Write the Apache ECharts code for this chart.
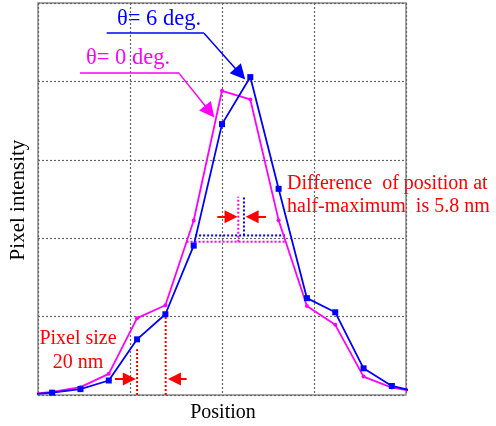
<!DOCTYPE html>
<html><head><meta charset="utf-8">
<script src="https://cdn.jsdelivr.net/npm/echarts@6/dist/echarts.min.js"></script>
<style>html,body{margin:0;padding:0;background:#fff}#c{width:496px;height:426px}</style>
</head><body><div id="c"></div>
<script>
// Data (x in nm, y in relative intensity units)
const positions = [-10, 10, 30, 50, 70, 90, 110, 130, 150, 170, 190, 210, 230, 250, 270];
const blueValues = [0.0, 0.6, 1.5, 3.7, 14.2, 20.6, 38.1, 69.1, 81.1, 52.6, 24.7, 21.1, 6.8, 2.3, 0.6];
const magentaValues = [0.1, 0.8, 2.0, 5.4, 19.6, 22.9, 44.5, 77.6, 75.4, 44.6, 22.7, 17.9, 4.7, 1.9, 0.65];
const xTicks = [0, 65, 130, 195, 260];
const yTicks = [0, 20, 40, 60, 80, 100];

// annotation geometry in data units
const halfMaxBlue = [[111, 40.7], [176, 40.7]];
const halfMaxMagenta = [[105, 39.1], [175.2, 39.1]];
const centerBlue = [[145.5, 40.7], [145.5, 50.8]];
const centerMagenta = [[141.5, 39.1], [141.5, 50.6]];
const pixelLines = [[[70, 0], [70, 11.7]], [[90.2, 0], [90.2, 20.6]]];
const redArrows = [
  [[54.4, 4.1], [64.5, 4.1]], [[105, 4.1], [96.4, 4.1]],
  [[126.7, 45.5], [136.4, 45.5]], [[161.1, 45.5], [151.3, 45.5]]
];
const theta6Path = [[48.5, 92.3], [117.3, 92.3], [142.9, 81.9]];
const theta0Path = [[29.7, 82.3], [99.1, 82.3], [121.3, 72.3]];

const serif = '"Liberation Serif", "Times New Roman", serif';
const chart = echarts.init(document.getElementById('c'));

function zip(xs, ys) { return xs.map((x, i) => [x, ys[i]]); }
function seg(p, q) { return [{coord: p}, {coord: q}]; }
function dotted(data, color) {
  return {type: 'line', data: data, symbol: 'none', silent: true, z: 3,
    lineStyle: {color: color, width: 2, type: [2, 2]}};
}
function arrowMarks(segs, color, size, width) {
  return {type: 'line', data: [], silent: true, z: 6,
    markLine: {silent: true, animation: false, symbol: ['none', 'triangle'], symbolSize: size,
      label: {show: false}, lineStyle: {color: color, width: width, type: 'solid'},
      emphasis: {disabled: true},
      data: segs.map(s => seg(s[0], s[1]))}};
}
function pathMarks(path, color, size) {
  const s = arrowMarks([[path[1], path[2]]], color, size, 1.5);
  const u = arrowMarks([[path[0], path[1]]], color, 0, 1.5);
  u.markLine.symbol = ['none', 'none'];
  return [u, s];
}

const option = {
  animation: false,
  backgroundColor: '#fff',
  grid: {left: 38, top: 3, right: 90, bottom: 31, show: true, borderColor: '#8a8a8a', borderWidth: 1.5, backgroundColor: '#fff'},
  xAxis: {type: 'value', min: xTicks[0], max: xTicks[xTicks.length - 1], interval: xTicks[1] - xTicks[0],
    axisLine: {show: false}, axisTick: {show: false}, axisLabel: {show: false},
    splitLine: {show: true, lineStyle: {color: '#666', width: 1.2, type: [2, 2]}}},
  yAxis: {type: 'value', min: yTicks[0], max: yTicks[yTicks.length - 1], interval: yTicks[1] - yTicks[0],
    axisLine: {show: false}, axisTick: {show: false}, axisLabel: {show: false},
    splitLine: {show: true, lineStyle: {color: '#666', width: 1.2, type: [2, 2]}}},
  series: [
    {name: 'θ= 0 deg.', type: 'line', data: zip(positions, magentaValues), clip: true, z: 4,
      symbol: 'circle', symbolSize: 4, showAllSymbol: true,
      lineStyle: {color: '#ff00ff', width: 1.8}, itemStyle: {color: '#ff00ff'}},
    {name: 'θ= 6 deg.', type: 'line', data: zip(positions, blueValues), clip: true, z: 5,
      symbol: 'rect', symbolSize: 6, showAllSymbol: true,
      lineStyle: {color: '#0000ff', width: 1.8}, itemStyle: {color: '#0000ff'}},
    dotted(halfMaxMagenta, '#ff00ff'),
    dotted(halfMaxBlue, '#0000ff'),
    dotted(centerMagenta, '#ff00ff'),
    dotted(centerBlue, '#0000ff'),
    dotted(pixelLines[0], '#ff0000'),
    dotted(pixelLines[1], '#ff0000'),
    arrowMarks(redArrows, '#ff0000', 13, 2),
    ...pathMarks(theta6Path, '#0000ff', 15),
    ...pathMarks(theta0Path, '#ff00ff', 15)
  ],
  graphic: [
    {type: 'text', x: 18, y: 200, rotation: Math.PI / 2, style: {text: 'Pixel intensity', font: '21px ' + serif, fill: '#000', align: 'center', verticalAlign: 'middle'}},
    {type: 'text', x: 223, y: 413, style: {text: 'Position', font: '20px ' + serif, fill: '#000', align: 'center', verticalAlign: 'middle'}},
    {type: 'text', x: 117, y: 19, style: {text: 'θ= 6 deg.', font: '22.5px ' + serif, fill: '#0000ff', align: 'left', verticalAlign: 'middle'}},
    {type: 'text', x: 86, y: 58, style: {text: 'θ= 0 deg.', font: '22.5px ' + serif, fill: '#ff00ff', align: 'left', verticalAlign: 'middle'}},
    {type: 'text', x: 287, y: 184, style: {text: 'Difference  of position at', font: '20px ' + serif, fill: '#ff0000', align: 'left', verticalAlign: 'middle'}},
    {type: 'text', x: 287, y: 207, style: {text: 'half-maximum  is 5.8 nm', font: '20px ' + serif, fill: '#ff0000', align: 'left', verticalAlign: 'middle'}},
    {type: 'text', x: 78, y: 339, style: {text: 'Pixel size', font: '20px ' + serif, fill: '#ff0000', align: 'center', verticalAlign: 'middle'}},
    {type: 'text', x: 78, y: 363, style: {text: '20 nm', font: '20px ' + serif, fill: '#ff0000', align: 'center', verticalAlign: 'middle'}}
  ]
};
chart.setOption(option);
</script>
</body></html>
